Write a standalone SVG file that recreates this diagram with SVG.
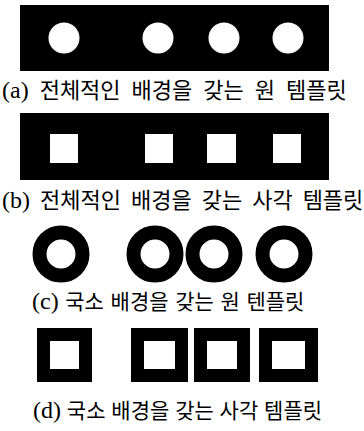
<svg xmlns="http://www.w3.org/2000/svg" width="364" height="431" viewBox="0 0 364 431">
<style>
.bg{fill:#000}
.hole{fill:#fff}
.ring{fill:none;stroke:#000;stroke-width:14}
.frame{fill:none;stroke:#000;stroke-width:13}
.cap{font-family:"Liberation Serif","Noto Sans CJK KR",serif;fill:#000}
.big{font-size:22px}
.small{font-size:21px}
.lab{font-size:24px}
</style>
<rect width="364" height="431" fill="#fff"/>
<g id="panel-a">
<rect class="bg" x="20" y="5" width="309" height="66"/>
<circle class="hole" cx="64" cy="38" r="15.5"/>
<circle class="hole" cx="158" cy="38" r="15.5"/>
<circle class="hole" cx="224" cy="38" r="15.5"/>
<circle class="hole" cx="288" cy="38" r="15.5"/>
<text class="cap big" x="2" y="98" word-spacing="5.5"><tspan class="lab">(a)</tspan> 전체적인 배경을 갖는 원 템플릿</text>
</g>
<g id="panel-b">
<rect class="bg" x="20" y="113" width="309" height="67"/>
<rect class="hole" x="50" y="134" width="28" height="29"/>
<rect class="hole" x="145" y="134" width="28" height="29"/>
<rect class="hole" x="207" y="134" width="29" height="29"/>
<rect class="hole" x="273" y="134" width="28" height="29"/>
<text class="cap big" x="2" y="208" word-spacing="4.5"><tspan class="lab">(b)</tspan> 전체적인 배경을 갖는 사각 템플릿</text>
</g>
<g id="panel-c">
<circle class="ring" cx="61" cy="254" r="21.5"/>
<circle class="ring" cx="155" cy="254" r="21.5"/>
<circle class="ring" cx="214" cy="254" r="21.5"/>
<circle class="ring" cx="284" cy="254" r="21.5"/>
<text class="cap small" x="32" y="309" word-spacing="1.4"><tspan class="lab">(c)</tspan> 국소 배경을 갖는 원 텐플릿</text>
</g>
<g id="panel-d">
<rect class="frame" x="43.5" y="334.5" width="42" height="41"/>
<rect class="frame" x="137.5" y="334.5" width="44" height="41"/>
<rect class="frame" x="200.5" y="334.5" width="43" height="41"/>
<rect class="frame" x="265.5" y="334.5" width="46" height="41"/>
<text class="cap small" x="33" y="418" word-spacing="0.6"><tspan class="lab">(d)</tspan> 국소 배경을 갖는 사각 템플릿</text>
</g>
</svg>
